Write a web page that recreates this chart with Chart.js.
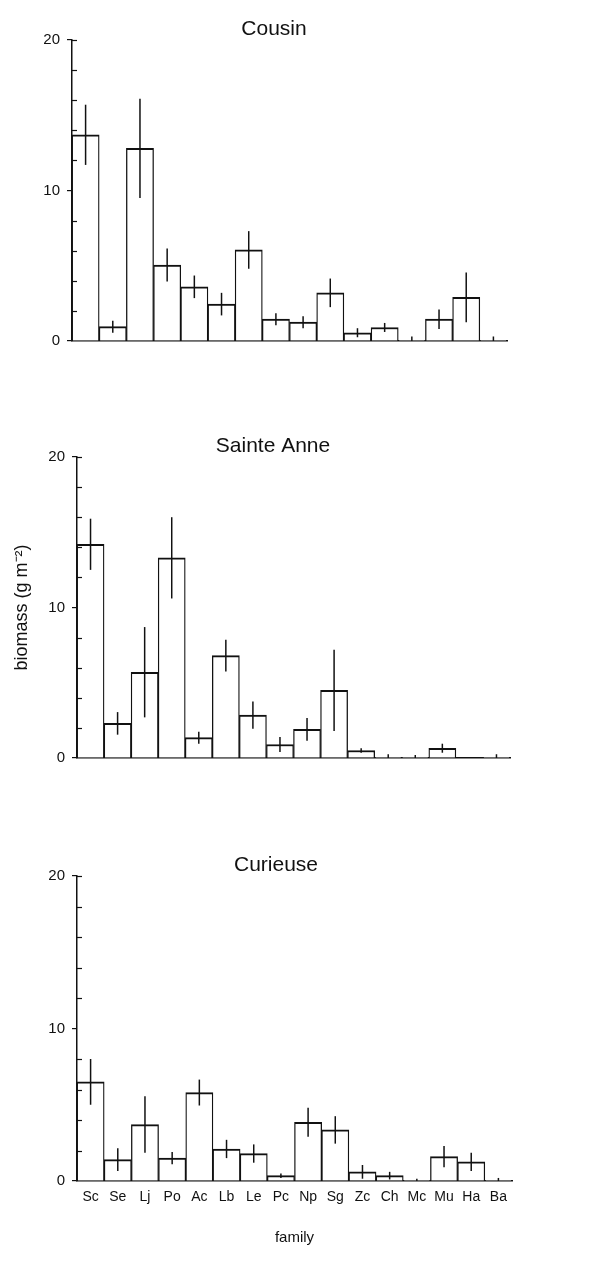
<!DOCTYPE html>
<html>
<head>
<meta charset="utf-8">
<title>Fish biomass by family</title>
<script src="https://cdn.jsdelivr.net/npm/chart.js@4.4.1/dist/chart.umd.min.js"></script>
<style>
  html, body { margin: 0; padding: 0; background: #fff; }
  body { width: 589px; height: 1268px; position: relative; overflow: hidden; }
  canvas { position: absolute; left: 0; display: block; }
</style>
</head>
<body>
<canvas id="cousin" width="589" height="360" style="top:0"></canvas>
<canvas id="sainteAnne" width="589" height="360" style="top:417px"></canvas>
<canvas id="curieuse" width="589" height="432" style="top:836px"></canvas>
<script>
// Fish families (abbreviated)
const families = ['Sc','Se','Lj','Po','Ac','Lb','Le','Pc','Np','Sg','Zc','Ch','Mc','Mu','Ha','Ba'];

// Mean biomass (g m-2) and standard errors per island
const cousinMean = [13.7, 0.95, 12.8, 5.05, 3.6, 2.45, 6.05, 1.45, 1.25, 3.2, 0.55, 0.9, 0.05, 1.45, 2.9, 0.05];
const cousinErr  = [2.0, 0.4, 3.3, 1.1, 0.75, 0.75, 1.25, 0.4, 0.4, 0.95, 0.3, 0.3, 0.25, 0.65, 1.65, 0.25];

const sainteAnneMean = [14.2, 2.3, 5.7, 13.3, 1.35, 6.8, 2.85, 0.9, 1.9, 4.5, 0.5, 0.05, 0.05, 0.65, 0, 0.05];
const sainteAnneErr  = [1.7, 0.75, 3.0, 2.7, 0.4, 1.05, 0.9, 0.5, 0.75, 2.7, 0.15, 0.2, 0.15, 0.3, 0, 0.2];

const curieuseMean = [6.5, 1.4, 3.7, 1.5, 5.8, 2.1, 1.8, 0.35, 3.85, 3.35, 0.6, 0.35, 0.05, 1.6, 1.25, 0.05];
const curieuseErr  = [1.5, 0.75, 1.85, 0.4, 0.85, 0.6, 0.6, 0.15, 0.95, 0.9, 0.45, 0.25, 0.1, 0.7, 0.6, 0.15];

// Axis ticks
const yMajorTicks = [0, 10, 20];
const yMinorTicks = [2, 4, 6, 8, 12, 14, 16, 18, 20];

const INK = '#111';
const FONT = '"Liberation Sans", Arial, Helvetica, sans-serif';

// Vertical error lines through the centre of each bar
const errorBars = {
  id: 'errorBars',
  afterDatasetsDraw(chart, args, opts) {
    const { ctx } = chart;
    const y = chart.scales.y;
    const meta = chart.getDatasetMeta(0);
    const values = chart.data.datasets[0].data;
    ctx.save();
    ctx.strokeStyle = INK;
    ctx.lineWidth = 1.5;
    meta.data.forEach((bar, i) => {
      const e = opts.errors[i];
      if (!e) return;
      const top = y.getPixelForValue(values[i] + e);
      const bottom = y.getPixelForValue(Math.max(0, values[i] - e));
      ctx.beginPath();
      ctx.moveTo(bar.x, top);
      ctx.lineTo(bar.x, bottom);
      ctx.stroke();
    });
    ctx.restore();
  }
};

// Short inward tick marks on the value axis
const minorTicks = {
  id: 'minorTicks',
  afterDraw(chart, args, opts) {
    const { ctx } = chart;
    const y = chart.scales.y;
    ctx.save();
    ctx.strokeStyle = INK;
    ctx.lineWidth = 1.2;
    opts.values.forEach(v => {
      const py = Math.round(y.getPixelForValue(v)) + 0.5;
      ctx.beginPath();
      ctx.moveTo(y.right, py);
      ctx.lineTo(y.right + 5, py);
      ctx.stroke();
    });
    ctx.restore();
  }
};

function makePanel(id, title, means, errs, layout) {
  return new Chart(document.getElementById(id), {
    type: 'bar',
    data: {
      labels: families,
      datasets: [{
        data: means,
        backgroundColor: '#fff',
        borderColor: INK,
        borderWidth: { top: 2, left: 1.3, right: 1.3, bottom: 0 },
        categoryPercentage: 1,
        barPercentage: 1
      }]
    },
    options: {
      responsive: false,
      animation: false,
      events: [],
      layout: { padding: { left: layout.left, right: layout.right, top: 0, bottom: layout.bottom } },
      plugins: {
        legend: { display: false },
        tooltip: { enabled: false },
        title: {
          display: true,
          text: title,
          color: INK,
          font: { family: FONT, size: 21, weight: 'normal', lineHeight: 1 },
          padding: { top: 19, bottom: 0 }
        },
        errorBars: { errors: errs },
        minorTicks: { values: yMinorTicks }
      },
      scales: {
        x: {
          z: 1,
          grid: { display: false, drawTicks: false },
          border: { display: true, color: INK, width: 1.5 },
          ticks: {
            display: layout.xLabels,
            autoSkip: false,
            maxRotation: 0,
            padding: 8,
            color: INK,
            font: { family: FONT, size: 14 }
          },
          title: {
            display: layout.xLabels,
            text: 'family',
            color: INK,
            font: { family: FONT, size: 15 },
            padding: { top: 0, bottom: 0 }
          },
          afterFit(scale) { scale.height = layout.xHeight; }
        },
        y: {
          z: 1,
          min: 0,
          max: 20,
          afterBuildTicks(scale) { scale.ticks = yMajorTicks.map(v => ({ value: v })); },
          ticks: {
            padding: 7,
            color: INK,
            font: { family: FONT, size: 15 }
          },
          grid: {
            drawOnChartArea: false,
            drawTicks: true,
            tickLength: 5,
            color: INK,
            lineWidth: 1.2
          },
          border: { display: true, color: INK, width: 1.5 },
          title: {
            display: !!layout.yTitle,
            text: 'biomass (g m⁻²)',
            color: INK,
            font: { family: FONT, size: 18 },
            padding: { top: -25, bottom: 0 }
          },
          afterFit(scale) { scale.width = layout.yWidth; }
        }
      }
    },
    plugins: [errorBars, minorTicks]
  });
}

makePanel('cousin', 'Cousin', cousinMean, cousinErr,
  { left: 41, right: 82, bottom: 19, yWidth: 31, xHeight: 0, xLabels: false });
makePanel('sainteAnne', 'Sainte Anne', sainteAnneMean, sainteAnneErr,
  { left: 36, right: 79, bottom: 19, yWidth: 41, xHeight: 0, xLabels: false, yTitle: true });
makePanel('curieuse', 'Curieuse', curieuseMean, curieuseErr,
  { left: 40, right: 77, bottom: 21, yWidth: 37, xHeight: 66, xLabels: true });
</script>
</body>
</html>
